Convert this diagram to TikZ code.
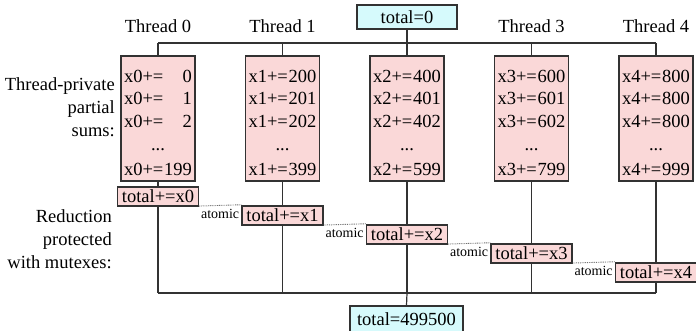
\documentclass[tikz,border=0pt]{standalone}
\usepackage{fontspec}
\setmainfont{Liberation Serif}
\usetikzlibrary{backgrounds}
\definecolor{pinkfill}{RGB}{250,216,216}
\definecolor{cyanfill}{RGB}{214,250,252}
\definecolor{edgecol}{RGB}{50,50,50}
\begin{document}
\begin{tikzpicture}[x=1pt,y=-1pt,
  every node/.style={font=\rmfamily\fontsize{18.5}{23}\selectfont},
  sumbox/.style={draw=edgecol, line width=1.3pt, fill=pinkfill, minimum width=74pt, minimum height=125pt, inner sep=0pt},
  redbox/.style={draw=edgecol, line width=1.3pt, fill=pinkfill, minimum width=81pt, minimum height=19pt, inner sep=0pt},
  totbox/.style={draw=edgecol, line width=1.3pt, fill=cyanfill, inner sep=0pt},
  wire/.style={draw=edgecol, line width=1.2pt},
  atomicline/.style={draw=edgecol!70, line width=0.9pt, dash pattern=on 0.9pt off 0.9pt},
  rowtext/.style={text width=68pt, inner sep=0pt, anchor=base, align=left},
  dotstext/.style={text width=68pt, inner sep=0pt, anchor=base, align=center},
  atomiclabel/.style={font=\rmfamily\fontsize{14}{16}\selectfont, anchor=east, inner sep=1pt},
  sidelabel/.style={align=right, anchor=east, inner sep=0pt},
  threadlabel/.style={inner sep=0pt},
]
\useasboundingbox (0,0) rectangle (696,330);

% top total
\node[totbox, minimum width=100pt, minimum height=24pt] (t0) at (407,17) {total=0};

% thread labels
\node[threadlabel] (h0) at (158,26) {Thread 0};
\node[threadlabel] (h1) at (282.5,26) {Thread 1};
\node[threadlabel] (h3) at (531.5,26) {Thread 3};
\node[threadlabel] (h4) at (656,26) {Thread 4};

% side labels
\node[sidelabel] (lab1) at (115,107) {Thread-private\\partial\\sums:};
\node[sidelabel] (lab2) at (112,239) {Reduction\\protected\\with mutexes:};

% columns
\foreach \i/\a/\b/\c/\d in {0/{\hfill 0}/{\hfill 1}/{\hfill 2}/199,
                             1/200/201/202/399,
                             2/400/401/402/599,
                             3/600/601/602/799,
                             4/800/800/800/999}{
  \pgfmathsetmacro{\cx}{158+124.5*\i}
  \pgfmathsetmacro{\ry}{196.5+19*\i}
  \coordinate (b\i) at (\cx,43);
  \coordinate (c\i) at (\cx,293);
  \node[sumbox] (p\i) at (\cx,118.5) {};
  \node[rowtext] (q\i a) at (\cx,82) {x\i+=\hfill\a};
  \node[rowtext] (q\i b) at (\cx,104.5) {x\i+=\hfill\b};
  \node[rowtext] (q\i c) at (\cx,127.5) {x\i+=\hfill\c};
  \node[dotstext] (q\i d) at (\cx,150.5) {...};
  \node[rowtext] (q\i e) at (\cx,175) {x\i+=\hfill\d};
  \node[redbox] (r\i) at (\cx,\ry) {total+=x\i};
}

% total result
\node[totbox, minimum width=113pt, minimum height=27pt] (tot) at (406.5,319.5) {total=499500};

% wires behind the boxes
\begin{pgfonlayer}{background}
\draw[wire] (t0.south) -- (b2);
\draw[wire] (b0) -- (b4);
\draw[wire] (c0) -- (c4);
\draw[wire] (c2) -- (tot.north);
\foreach \i in {0,...,4}{
  \draw[wire] (b\i) -- (p\i.north);
  \draw[wire] (p\i.south) -- (r\i.north);
  \draw[wire] (r\i.south) -- (c\i);
}
\end{pgfonlayer}

% atomic links
\foreach \i/\j in {0/1,1/2,2/3,3/4}{
  \draw[atomicline] ([yshift=0.6pt]r\i.south east) -- ([yshift=0.6pt]r\j.north west);
  \node[atomiclabel] (at\j) at ([xshift=-1pt,yshift=1.5pt]r\j.west) {atomic};
}
\end{tikzpicture}
\end{document}
